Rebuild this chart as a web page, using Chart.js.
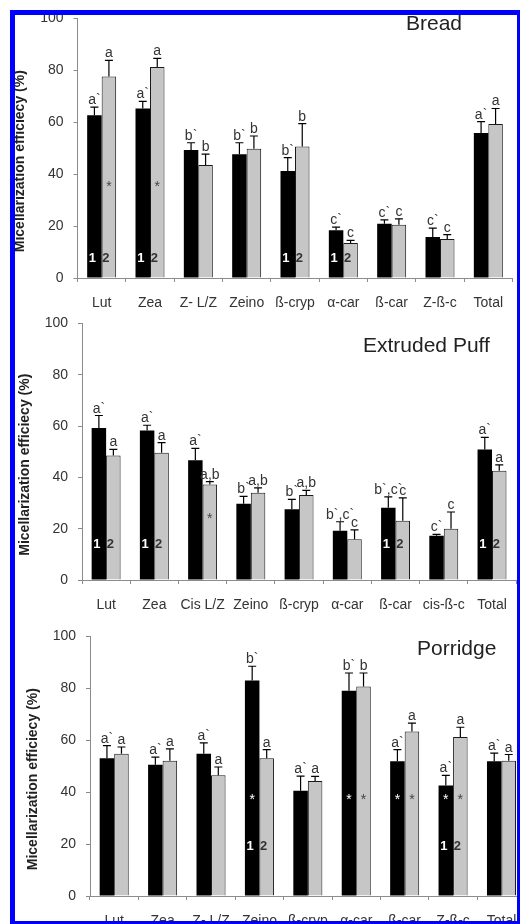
<!DOCTYPE html>
<html>
<head>
<meta charset="utf-8">
<script src="https://cdn.jsdelivr.net/npm/chart.js@4.4.1/dist/chart.umd.min.js"></script>
<style>
  html, body { margin: 0; padding: 0; background: #fff; width: 520px; height: 924px; overflow: hidden; position: relative; }
  canvas { position: absolute; left: 0; }
  #frame { position: absolute; left: 10px; top: 10px; width: 502px; height: 906px; border-style: solid; border-color: #0000ff; border-width: 5px 3px 3px 5px; pointer-events: none; }
</style>
</head>
<body>
<canvas id="bread" width="520" height="310" style="top:0"></canvas>
<canvas id="puff" width="520" height="310" style="top:305px"></canvas>
<canvas id="porridge" width="540" height="306" style="top:618px"></canvas>
<div id="frame"></div>
<script>
Chart.defaults.font.family = "'Liberation Sans', Arial, sans-serif";
Chart.defaults.color = '#333';

// Bread
const breadLabels = ['Lut', 'Zea', 'Z- L/Z', 'Zeino', 'ß-cryp', 'α-car', 'ß-car', 'Z-ß-c', 'Total'];
const breadSeries1 = [62.7, 65.3, 49.3, 47.7, 41.2, 18.4, 20.9, 15.8, 55.9];
const breadSd1     = [3.1, 2.7, 2.8, 4.4, 5.2, 1.2, 1.5, 3.4, 4.3];
const breadSeries2 = [77.6, 81.3, 43.5, 49.8, 50.7, 13.5, 20.5, 15.0, 59.3];
const breadSd2     = [6.2, 3.3, 4.2, 4.9, 8.8, 1.0, 2.3, 1.7, 6.0];
const breadLetters1 = ['a`', 'a`', 'b`', 'b`', 'b`', 'c`', 'c`', 'c`', 'a`'];
const breadLetters2 = ['a', 'a', 'b', 'b', 'b', 'c', 'c', 'c', 'a'];
const breadNumbered = [0, 1, 4, 5];
const breadStars1 = [];
const breadStars2 = [0, 1];

// Extruded Puff
const puffLabels = ['Lut', 'Zea', 'Cis L/Z', 'Zeino', 'ß-cryp', 'α-car', 'ß-car', 'cis-ß-c', 'Total'];
const puffSeries1 = [59.2, 58.3, 46.7, 29.7, 27.6, 19.2, 28.2, 17.2, 50.9];
const puffSd1     = [4.9, 2.0, 4.6, 2.9, 3.8, 3.5, 4.2, 0.6, 4.7];
const puffSeries2 = [48.5, 49.6, 37.2, 34.0, 33.1, 15.9, 23.1, 20.0, 42.6];
const puffSd2     = [2.4, 3.9, 1.1, 1.9, 1.8, 3.6, 8.9, 6.5, 2.3];
const puffLetters1 = ['a`', 'a`', 'a`', 'b`', 'b`', 'b`,c`', 'b`,c`', 'c`', 'a`'];
const puffLetters2 = ['a', 'a', 'a,b', 'a,b', 'a,b', 'c', 'c', 'c', 'a'];
const puffNumbered = [0, 1, 6, 8];
const puffStars1 = [];
const puffStars2 = [2];

// Porridge
const porridgeLabels = ['Lut', 'Zea', 'Z- L/Z', 'Zeino', 'ß-cryp', 'α-car', 'ß-car', 'Z-ß-c', 'Total'];
const porridgeSeries1 = [53.1, 50.6, 54.8, 83.0, 40.5, 79.1, 51.9, 42.6, 51.9];
const porridgeSd1     = [4.8, 2.9, 4.2, 5.5, 5.7, 6.8, 4.5, 3.9, 3.1];
const porridgeSeries2 = [54.8, 52.1, 46.5, 53.1, 44.3, 80.7, 63.4, 61.2, 52.1];
const porridgeSd2     = [2.6, 4.6, 3.2, 3.3, 1.8, 5.2, 3.2, 3.8, 2.4];
const porridgeLetters1 = ['a`', 'a`', 'a`', 'b`', 'a`', 'b`', 'a`', 'a`', 'a`'];
const porridgeLetters2 = ['a', 'a', 'a', 'a', 'a', 'b', 'a', 'a', 'a'];
const porridgeNumbered = [3, 7];
const porridgeStars1 = [3, 5, 6, 7];
const porridgeStars2 = [5, 6, 7];

const yTitle = 'Micellarization efficiecy (%)';
const FONT = "'Liberation Sans', Arial, sans-serif";

// error bars, letters, 1/2 marks, stars, titles
const barMarks = {
    id: 'barMarks',
    afterDatasetsDraw(chart, args, opts) {
        const ctx = chart.ctx;
        const y = chart.scales.y;
        const area = chart.chartArea;
        ctx.save();

        chart.data.datasets.forEach((ds, di) => {
            const meta = chart.getDatasetMeta(di);
            meta.data.forEach((bar, i) => {
                const top = y.getPixelForValue(ds.data[i] + ds.sd[i]);
                ctx.strokeStyle = '#000';
                ctx.lineWidth = 1.2;
                ctx.beginPath();
                ctx.moveTo(bar.x, bar.y);
                ctx.lineTo(bar.x, top);
                ctx.moveTo(bar.x - 4, top);
                ctx.lineTo(bar.x + 4, top);
                ctx.stroke();

                ctx.fillStyle = '#333';
                ctx.font = '14px ' + FONT;
                ctx.textAlign = 'center';
                ctx.textBaseline = 'alphabetic';
                ctx.fillText(ds.letters[i], bar.x, top - 3);
            });
        });

        const m1 = chart.getDatasetMeta(0).data;
        const m2 = chart.getDatasetMeta(1).data;

        ctx.textBaseline = 'middle';
        ctx.font = 'bold 13px ' + FONT;
        const ny = y.getPixelForValue(opts.numberAt);
        opts.numbered.forEach(i => {
            ctx.fillStyle = '#fff';
            ctx.fillText('1', m1[i].x - 2, ny);
            ctx.fillStyle = '#333';
            ctx.fillText('2', m2[i].x - 3, ny);
        });

        ctx.font = '14px ' + FONT;
        const sy = y.getPixelForValue(opts.starAt);
        opts.stars1.forEach(i => {
            ctx.fillStyle = '#fff';
            ctx.fillText('*', m1[i].x, sy);
        });
        opts.stars2.forEach(i => {
            ctx.fillStyle = '#444';
            ctx.fillText('*', m2[i].x, sy);
        });

        // panel title
        ctx.fillStyle = '#222';
        ctx.font = '21px ' + FONT;
        ctx.textAlign = 'left';
        ctx.textBaseline = 'alphabetic';
        ctx.fillText(opts.title, opts.titleX, opts.titleY);

        // y axis title
        ctx.translate(area.left - 57, (area.top + area.bottom) / 2 + 13);
        ctx.rotate(-Math.PI / 2);
        ctx.font = 'bold 14px ' + FONT;
        ctx.textAlign = 'center';
        ctx.textBaseline = 'middle';
        ctx.fillText(yTitle, 0, 0);
        ctx.restore();
    }
};

function makePanel(id, labels, s1, sd1, s2, sd2, l1, l2, box, marks) {
    return new Chart(document.getElementById(id), {
        type: 'bar',
        data: {
            labels: labels,
            datasets: [
                { label: '1', data: s1, sd: sd1, letters: l1, backgroundColor: '#000', borderColor: '#000', borderWidth: 0 },
                { label: '2', data: s2, sd: sd2, letters: l2, backgroundColor: '#c6c6c6', borderColor: '#1a1a1a', borderWidth: 1 }
            ]
        },
        options: {
            responsive: false,
            animation: false,
            categoryPercentage: 0.6,
            barPercentage: 1.0,
            layout: { padding: { top: box.top, right: box.right, left: 0, bottom: 0 } },
            plugins: {
                legend: { display: false },
                tooltip: { enabled: false },
                barMarks: marks
            },
            scales: {
                x: {
                    grid: { drawOnChartArea: false, tickLength: 4, color: '#8c8c8c', offset: true },
                    border: { color: '#8c8c8c' },
                    ticks: { font: { size: 14 }, color: '#333', padding: 13, maxRotation: 0, autoSkip: false },
                    afterFit(s) { s.height = box.xHeight; }
                },
                y: {
                    min: 0,
                    max: 100,
                    ticks: { stepSize: 20, font: { size: 14 }, color: '#333', padding: 10 },
                    grid: { drawOnChartArea: false, tickLength: 4, color: '#8c8c8c' },
                    border: { color: '#8c8c8c' },
                    afterFit(s) { s.width = box.yWidth; }
                }
            }
        },
        plugins: [barMarks]
    });
}

makePanel('bread', breadLabels, breadSeries1, breadSd1, breadSeries2, breadSd2, breadLetters1, breadLetters2,
    { top: 16.5, right: 7.5, xHeight: 32, yWidth: 77.5 },
    { numbered: breadNumbered, numberAt: 7.6, stars1: breadStars1, stars2: breadStars2, starAt: 35,
      title: 'Bread', titleX: 406, titleY: 29.5 });

makePanel('puff', puffLabels, puffSeries1, puffSd1, puffSeries2, puffSd2, puffLetters1, puffLetters2,
    { top: 15, right: 3.5, xHeight: 35, yWidth: 82 },
    { numbered: puffNumbered, numberAt: 13.8, stars1: puffStars1, stars2: puffStars2, starAt: 23.7,
      title: 'Extruded Puff', titleX: 363, titleY: 46.7 });

makePanel('porridge', porridgeLabels, porridgeSeries1, porridgeSd1, porridgeSeries2, porridgeSd2, porridgeLetters1, porridgeLetters2,
    { top: 17.7, right: 14.3, xHeight: 28, yWidth: 90 },
    { numbered: porridgeNumbered, numberAt: 19, stars1: porridgeStars1, stars2: porridgeStars2, starAt: 37,
      title: 'Porridge', titleX: 417, titleY: 36.5 });
</script>
</body>
</html>
